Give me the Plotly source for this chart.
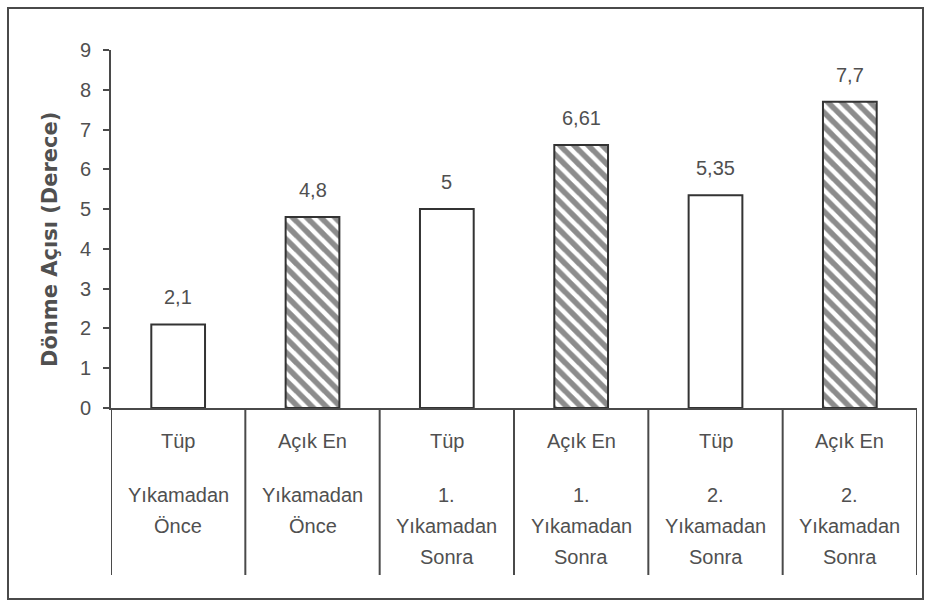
import plotly.graph_objects as go

# Data
tip = ["Tüp", "Açık En", "Tüp", "Açık En", "Tüp", "Açık En"]
asama = [
    ["Yıkamadan", "Önce"],
    ["Yıkamadan", "Önce"],
    ["1.", "Yıkamadan", "Sonra"],
    ["1.", "Yıkamadan", "Sonra"],
    ["2.", "Yıkamadan", "Sonra"],
    ["2.", "Yıkamadan", "Sonra"],
]
donme_acisi = [2.1, 4.8, 5, 6.61, 5.35, 7.7]
y_ticks = [0, 1, 2, 3, 4, 5, 6, 7, 8, 9]
y_title = "Dönme Açısı (Derece)"

# Layout geometry (pixels)
W, H = 930, 600
L, R, T, B = 111, 13, 50, 192
plot_w = W - L - R
plot_h = H - T - B

TEXT = "#505050"
LINE = "#4a4a4a"
FONT = "Liberation Sans, Arial, sans-serif"


def py(px):
    """Convert a pixel row to a paper y coordinate."""
    return (H - B - px) / plot_h


def px_x(px):
    """Convert a pixel column to a paper x coordinate."""
    return (px - L) / plot_w


x = list(range(len(donme_acisi)))
patterns = ["" if t == "Tüp" else "\\" for t in tip]

fig = go.Figure()
fig.add_trace(
    go.Bar(
        x=x,
        y=donme_acisi,
        width=0.4,
        marker=dict(
            color="white",
            line=dict(color="#333333", width=2),
            pattern=dict(
                shape=patterns,
                fgcolor="#1a1a1a",
                bgcolor="white",
                size=10,
                solidity=0.55,
                fillmode="overlay",
            ),
        ),
        hoverinfo="skip",
    )
)

annotations = []
# value labels above the bars
for xi, v in zip(x, donme_acisi):
    annotations.append(
        dict(
            x=xi,
            y=v,
            xref="x",
            yref="y",
            text=f"{v:g}".replace(".", ","),
            showarrow=False,
            yanchor="middle",
            yshift=27,
            font=dict(family=FONT, size=20, color=TEXT),
        )
    )

# category table text under the axis
line_rows = [495, 526, 557]
for xi, (t, parts) in enumerate(zip(tip, asama)):
    annotations.append(
        dict(
            x=xi, y=py(441), xref="x", yref="paper", text=t,
            showarrow=False, yanchor="middle",
            font=dict(family=FONT, size=20, color=TEXT),
        )
    )
    for row, part in zip(line_rows, parts):
        annotations.append(
            dict(
                x=xi, y=py(row), xref="x", yref="paper", text=part,
                showarrow=False, yanchor="middle",
                font=dict(family=FONT, size=20, color=TEXT),
            )
        )

# y-axis title
annotations.append(
    dict(
        x=px_x(50), y=py(240), xref="paper", yref="paper",
        text=f"<b>{y_title}</b>", textangle=-90, showarrow=False,
        xanchor="center", yanchor="middle",
        font=dict(family="DejaVu Sans, sans-serif", size=21, color=TEXT),
    )
)

shapes = []
# vertical separators of the category table
for i in range(len(x) + 1):
    shapes.append(
        dict(
            type="line", xref="x", yref="paper",
            x0=i - 0.5, x1=i - 0.5, y0=0, y1=py(575),
            line=dict(color=LINE, width=2),
        )
    )
# outer frame
shapes.append(
    dict(
        type="rect", xref="paper", yref="paper",
        x0=px_x(8), x1=px_x(923), y0=py(599), y1=py(8),
        line=dict(color=LINE, width=2), fillcolor="rgba(0,0,0,0)",
        layer="below",
    )
)

fig.update_layout(
    width=W,
    height=H,
    margin=dict(l=L, r=R, t=T, b=B, pad=0),
    paper_bgcolor="white",
    plot_bgcolor="white",
    showlegend=False,
    annotations=annotations,
    shapes=shapes,
    bargap=0.6,
)
fig.update_xaxes(
    range=[-0.5, len(x) - 0.5],
    showline=True, linecolor=LINE, linewidth=2,
    showticklabels=False, ticks="", showgrid=False, zeroline=False,
)
fig.update_yaxes(
    range=[0, 9],
    tickvals=y_ticks,
    ticktext=[str(t) for t in y_ticks],
    showline=True, linecolor=LINE, linewidth=2,
    ticks="outside", ticklen=6, tickwidth=2, tickcolor=LINE,
    ticklabelstandoff=8,
    tickfont=dict(family=FONT, size=20, color=TEXT),
    showgrid=False, zeroline=False,
)

fig.write_html("out.html")
